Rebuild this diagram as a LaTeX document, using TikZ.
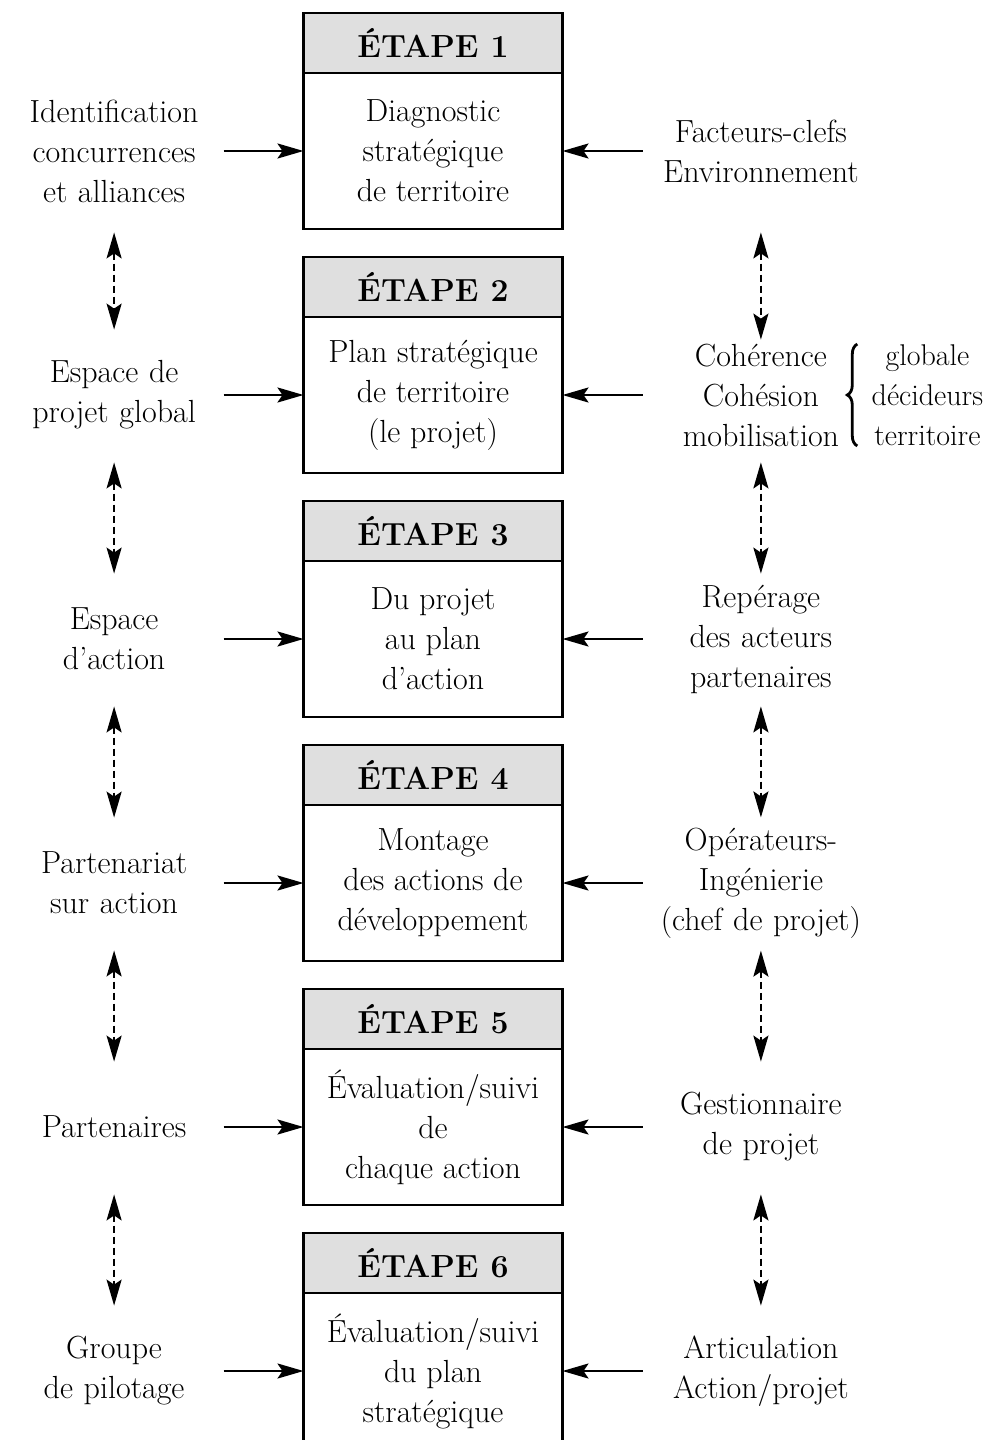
\documentclass[tikz,border=0pt]{standalone}
\usepackage{tikz}
\usetikzlibrary{arrows.meta,positioning,decorations.pathreplacing}

\begin{document}
\begin{tikzpicture}[x=0.5pt, y=-0.5pt, font=\fontsize{16}{20}\selectfont,
        head/.style={draw, line width=1.3pt, outer sep=0pt, fill=gray!25, minimum width=129.5pt, minimum height=30pt, font=\fontsize{16}{20}\selectfont\bfseries},
        body/.style={draw, line width=1.3pt, outer sep=0pt, fill=white, minimum width=129.5pt, minimum height=78pt, align=center},
        lbl/.style={inner sep=0pt, text width=109pt, minimum height=55pt, align=center},
        rbl/.style={inner sep=0pt, text width=118pt, minimum height=55pt, align=center},
        arr/.style={-{Stealth[length=13pt, width=7.5pt, inset=2.5pt]}, line width=1.2pt},
        darr/.style={{Stealth[length=13pt, width=7.5pt, inset=2.5pt]}-{Stealth[length=13pt, width=7.5pt, inset=2.5pt]}, line width=1.1pt, dash pattern=on 3.5pt off 2pt, shorten <=6pt, shorten >=5pt}]
        \useasboundingbox (0,0) rectangle (998,1440);

        % Steps
        \node [head] (head1) at (433,43) {ÉTAPE 1};
        \node [body, below=0pt of head1] (body1) {Diagnostic\\stratégique\\de territoire};
        \node [head, below=14pt of body1] (head2) {ÉTAPE 2};
        \node [body, below=0pt of head2] (body2) {Plan stratégique\\de territoire\\(le projet)};
        \node [head, below=14pt of body2] (head3) {ÉTAPE 3};
        \node [body, below=0pt of head3] (body3) {Du projet\\au plan\\d’action};
        \node [head, below=14pt of body3] (head4) {ÉTAPE 4};
        \node [body, below=0pt of head4] (body4) {Montage\\des actions de\\développement};
        \node [head, below=14pt of body4] (head5) {ÉTAPE 5};
        \node [body, below=0pt of head5] (body5) {Évaluation/suivi\\de\\chaque action};
        \node [head, below=14pt of body5] (head6) {ÉTAPE 6};
        \node [body, below=0pt of head6] (body6) {Évaluation/suivi\\du plan\\stratégique};

        % Left column
        \node [lbl, left=40pt of body1] (left1) {Identification\\concurrences\\et alliances};
        \node [lbl, left=40pt of body2] (left2) {Espace de\\projet global};
        \node [lbl, left=40pt of body3] (left3) {Espace\\d’action};
        \node [lbl, left=40pt of body4] (left4) {Partenariat\\sur action};
        \node [lbl, left=40pt of body5] (left5) {Partenaires};
        \node [lbl, left=40pt of body6] (left6) {Groupe\\de pilotage};

        % Right column
        \node [rbl, right=40pt of body1] (right1) {Facteurs-clefs\\Environnement};
        \node [rbl, right=40pt of body2] (right2) {Cohérence\\Cohésion\\mobilisation};
        \node [rbl, right=40pt of body3] (right3) {Repérage\\des acteurs\\partenaires};
        \node [rbl, right=40pt of body4] (right4) {Opérateurs-\\Ingénierie\\(chef de projet)};
        \node [rbl, right=40pt of body5] (right5) {Gestionnaire\\de projet};
        \node [rbl, right=40pt of body6] (right6) {Articulation\\Action/projet};

        % Brace
        \node [inner sep=0pt, align=center, font=\fontsize{15}{20}\selectfont, right=-4pt of right2] (glob) {globale\\décideurs\\territoire};
        \draw [line width=1.4pt, decorate, decoration={brace, amplitude=5pt}] ([xshift=-7pt]glob.south west) -- ([xshift=-7pt]glob.north west);

        % Arrows
        \draw [arr] (left1) -- (body1);
        \draw [arr] (left2) -- (body2);
        \draw [arr] (left3) -- (body3);
        \draw [arr] (left4) -- (body4);
        \draw [arr] (left5) -- (body5);
        \draw [arr] (left6) -- (body6);
        \draw [arr] (right1) -- (body1);
        \draw [arr] (right2) -- (body2);
        \draw [arr] (right3) -- (body3);
        \draw [arr] (right4) -- (body4);
        \draw [arr] (right5) -- (body5);
        \draw [arr] (right6) -- (body6);

        % Dashed links
        \draw [darr, shorten <=13pt] (left1) -- (left2);
        \draw [darr] (left2) -- (left3);
        \draw [darr] (left3) -- (left4);
        \draw [darr] (left4) -- (left5);
        \draw [darr] (left5) -- (left6);
        \draw [darr, shorten <=13pt, shorten >=0pt] (right1) -- (right2);
        \draw [darr] (right2) -- (right3);
        \draw [darr] (right3) -- (right4);
        \draw [darr] (right4) -- (right5);
        \draw [darr] (right5) -- (right6);
    \end{tikzpicture}
\end{document}
